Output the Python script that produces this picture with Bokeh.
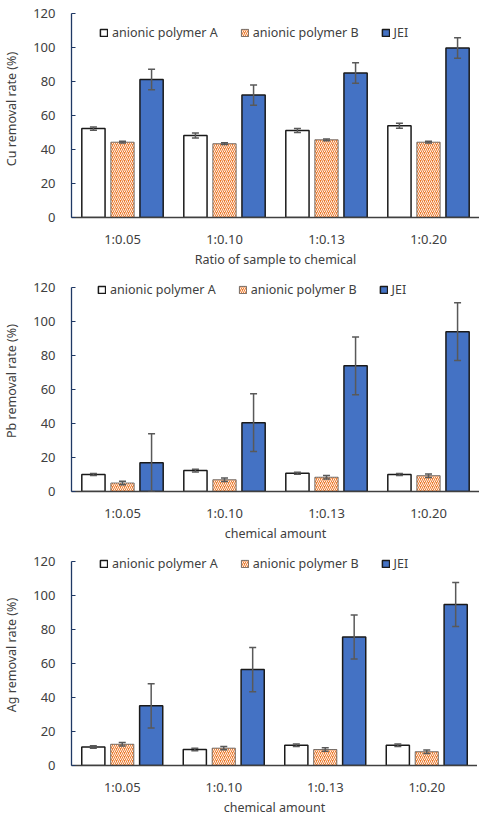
from bokeh.plotting import figure
from bokeh.models import ColumnDataSource, Whisker, TeeHead, Legend, LegendItem, FactorRange
from bokeh.transform import dodge
from bokeh.layouts import column
from bokeh.embed import file_html
from bokeh.resources import INLINE

categories = ["1:0.05", "1:0.10", "1:0.13", "1:0.20"]
series_names = ["anionic polymer A", "anionic polymer B", "JEI"]
y_ticks = [0, 20, 40, 60, 80, 100, 120]

cu_A = [52.3, 48.2, 51.2, 54.0]
cu_A_err = [1.0, 1.5, 1.2, 1.5]
cu_B = [44.3, 43.4, 45.7, 44.3]
cu_B_err = [0.5, 0.5, 0.5, 0.5]
cu_JEI = [81.2, 72.0, 85.0, 99.7]
cu_JEI_err = [6.0, 6.0, 6.0, 6.0]

pb_A = [10.0, 12.3, 10.7, 10.0]
pb_A_err = [0.6, 0.8, 0.6, 0.6]
pb_B = [5.0, 6.9, 8.4, 9.3]
pb_B_err = [1.0, 1.0, 1.0, 1.0]
pb_JEI = [16.9, 40.5, 73.9, 94.0]
pb_JEI_err = [17.0, 17.0, 17.0, 17.0]

ag_A = [10.9, 9.4, 11.9, 11.9]
ag_A_err = [0.7, 0.7, 0.7, 0.7]
ag_B = [12.5, 10.2, 9.4, 8.1]
ag_B_err = [1.0, 1.0, 1.0, 1.0]
ag_JEI = [35.1, 56.4, 75.6, 94.7]
ag_JEI_err = [13.0, 13.0, 13.0, 13.0]

FONT = "Noto Sans"
TXT = "#404040"
BLUE = "#4472C4"
ORANGE = "#ED7D31"
ERR = "#595959"
SCALE_PX = 204
PX_PER_UNIT = SCALE_PX / 120


def make_panel(A, Ae, B, Be, J, Je, ylabel, xlabel, extra_px, left, legend_xy):
    src = ColumnDataSource(dict(
        cat=categories,
        A=A, B=B, J=J,
        A_lo=[v - e for v, e in zip(A, Ae)], A_hi=[v + e for v, e in zip(A, Ae)],
        B_lo=[v - e for v, e in zip(B, Be)], B_hi=[v + e for v, e in zip(B, Be)],
        J_lo=[max(v - e, 0) for v, e in zip(J, Je)], J_hi=[v + e for v, e in zip(J, Je)],
    ))
    ytop = 120 + extra_px / PX_PER_UNIT
    p = figure(x_range=FactorRange(*categories, range_padding=0), y_range=(0, ytop),
               frame_width=483 - 8 - left, frame_height=SCALE_PX + extra_px,
               output_backend="svg", toolbar_location=None,
               min_border_top=0, min_border_bottom=0, min_border_left=left,
               min_border_right=0)
    p.outline_line_color = None
    p.xgrid.grid_line_color = None
    p.ygrid.grid_line_color = None
    off = 0.285
    w = 0.228
    rA = p.vbar(x=dodge("cat", -off, range=p.x_range), top="A", width=w, source=src,
                fill_color="white", line_color="#1a1a1a", line_width=1.5)
    rB = p.vbar(x=dodge("cat", 0, range=p.x_range), top="B", width=w, source=src,
                fill_color=ORANGE, line_color="#555555", line_width=0.8,
                hatch_pattern="/", hatch_color="white", hatch_scale=4,
                hatch_weight=0.9)
    rJ = p.vbar(x=dodge("cat", off, range=p.x_range), top="J", width=w, source=src,
                fill_color=BLUE, line_color="#1a1a1a", line_width=1.5)
    for k, o in (("A", -off), ("B", 0), ("J", off)):
        wk = Whisker(source=src, base=dodge("cat", o, range=p.x_range),
                     lower=f"{k}_lo", upper=f"{k}_hi", line_color=ERR, line_width=1.5,
                     upper_head=TeeHead(size=7, line_color=ERR, line_width=1.5),
                     lower_head=TeeHead(size=7, line_color=ERR, line_width=1.5),
                     level="overlay")
        p.add_layout(wk)

    p.yaxis.ticker = y_ticks
    p.yaxis.bounds = (0, 120)
    p.yaxis.axis_line_color = "#1F3864"
    p.yaxis.axis_line_width = 1.3
    p.yaxis.major_tick_line_color = "#1F3864"
    p.yaxis.major_tick_in = 4
    p.yaxis.major_tick_out = 0
    p.yaxis.minor_tick_line_color = None
    p.yaxis.major_label_standoff = 16
    p.yaxis.axis_label = ylabel
    p.yaxis.axis_label_standoff = 10

    p.xaxis.axis_line_color = "#404040"
    p.xaxis.axis_line_width = 1.6
    p.xaxis.major_tick_line_color = None
    p.xaxis.minor_tick_line_color = None
    p.xaxis.major_label_standoff = 6
    p.xaxis.axis_label = xlabel
    p.xaxis.axis_label_standoff = 0

    for ax in (p.xaxis[0], p.yaxis[0]):
        ax.major_label_text_font = FONT
        ax.major_label_text_font_size = "13px"
        ax.major_label_text_color = TXT
        ax.axis_label_text_font = FONT
        ax.axis_label_text_font_size = "12.5px"
        ax.axis_label_text_font_style = "normal"
        ax.axis_label_text_color = TXT

    leg = Legend(items=[LegendItem(label=series_names[0], renderers=[rA]),
                        LegendItem(label=series_names[1], renderers=[rB]),
                        LegendItem(label=series_names[2], renderers=[rJ])],
                 orientation="horizontal", location=legend_xy)
    leg.border_line_color = None
    leg.background_fill_alpha = 0
    leg.padding = 0
    leg.margin = 0
    leg.spacing = 22
    leg.glyph_width = 9
    leg.glyph_height = 9
    leg.label_standoff = 4
    leg.label_height = 14
    leg.label_text_font = FONT
    leg.label_text_font_size = "12.5px"
    leg.label_text_color = TXT
    p.add_layout(leg)
    return p


p1 = make_panel(cu_A, cu_A_err, cu_B, cu_B_err, cu_JEI, cu_JEI_err,
                "Cu removal rate (%)", "Ratio of sample to chemical",
                13, 67, (28, 176))
p2 = make_panel(pb_A, pb_A_err, pb_B, pb_B_err, pb_JEI, pb_JEI_err,
                "Pb removal rate (%)", "chemical amount",
                17, 67, (26, 193))
p3 = make_panel(ag_A, ag_A_err, ag_B, ag_B_err, ag_JEI, ag_JEI_err,
                "Ag removal rate (%)", "chemical amount",
                17, 69, (28, 193))

layout = column(p1, p2, p3, spacing=0)
open("out.html", "w").write(file_html(layout, INLINE))
